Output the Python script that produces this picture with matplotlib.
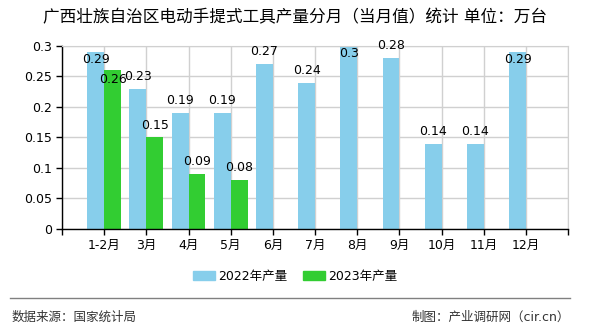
import matplotlib
matplotlib.use("Agg")
import matplotlib.pyplot as plt
from matplotlib.lines import Line2D
import numpy as np

plt.rcParams['font.family'] = ['DejaVu Sans', 'Noto Sans CJK SC']

categories = ["1-2月", "3月", "4月", "5月", "6月", "7月", "8月", "9月", "10月", "11月", "12月"]
output_2022 = [0.29, 0.23, 0.19, 0.19, 0.27, 0.24, 0.3, 0.28, 0.14, 0.14, 0.29]
output_2023 = [0.26, 0.15, 0.09, 0.08]
series_names = ["2022年产量", "2023年产量"]
title = "广西壮族自治区电动手提式工具产量分月（当月值）统计 单位：万台"
source_text = "数据来源：国家统计局"
credit_text = "制图：产业调研网（cir.cn）"

color_2022 = "#87CEEB"
color_2023 = "#32CD32"
grid_color = "#d0d0d0"

fig = plt.figure(figsize=(5.9, 3.3), dpi=100)
ax = fig.add_axes([0.105, 0.306, 0.858, 0.555])

x = np.arange(len(categories))
w = 0.4
ax.bar(x - w / 2, output_2022, width=w, color=color_2022, zorder=2)
ax.bar(x[:len(output_2023)] + w / 2, output_2023, width=w, color=color_2023, zorder=2)

ymax = 0.3
ax.set_xlim(-1, len(categories))
ax.set_ylim(0, ymax)

# value labels: above the bar, or just inside its top when there is no room
gap = 0.02
inside = 0.013


def label_y(v):
    y = v + gap
    return y if y <= ymax + 1e-9 else v - inside


pos_2022 = [label_y(v) for v in output_2022]
for xi, v, ly in zip(x, output_2022, pos_2022):
    ax.text(xi - w / 2, ly, f"{v:g}", ha="center", va="center", fontsize=9, zorder=3)
for xi, v in zip(x, output_2023):
    ly = label_y(v)
    if abs(ly - pos_2022[xi]) < 0.02:
        ly = v - inside - 0.002
    ax.text(xi + w / 2, ly, f"{v:g}", ha="center", va="center", fontsize=9, zorder=3)

# axes styling
ax.set_yticks(np.arange(0, 0.31, 0.05))
ax.set_yticklabels(["0", "0.05", "0.1", "0.15", "0.2", "0.25", "0.3"], fontsize=9)
ticks = list(range(-1, len(categories) + 1))
ax.set_xticks(ticks)
ax.set_xticklabels([""] + categories + [""], fontsize=9)
ax.tick_params(axis="both", direction="out", length=4, width=1, color="black", pad=3)
ax.grid(True, color=grid_color, linewidth=1, zorder=0)
ax.set_axisbelow(True)
for s in ["top", "right"]:
    ax.spines[s].set_color(grid_color)
for s in ["left", "bottom"]:
    ax.spines[s].set_color("black")
    ax.spines[s].set_linewidth(1)

fig.text(0.5, 0.948, title, ha="center", va="center", fontsize=12)

handles = [plt.Rectangle((0, 0), 1, 1, color=color_2022),
           plt.Rectangle((0, 0), 1, 1, color=color_2023)]
fig.legend(handles, series_names, loc="center", bbox_to_anchor=(0.5, 0.162), ncol=2,
           frameon=False, fontsize=9, handlelength=1.8, handleheight=0.75,
           handletextpad=0.25, columnspacing=1.2)

fig.add_artist(Line2D([0.017, 0.966], [0.097, 0.097], transform=fig.transFigure,
                      color="#808080", linewidth=1))
fig.text(0.02, 0.04, source_text, ha="left", va="center", fontsize=9, color="#333333")
fig.text(0.966, 0.04, credit_text, ha="right", va="center", fontsize=9, color="#333333")

fig.savefig("out.png", dpi=100)
